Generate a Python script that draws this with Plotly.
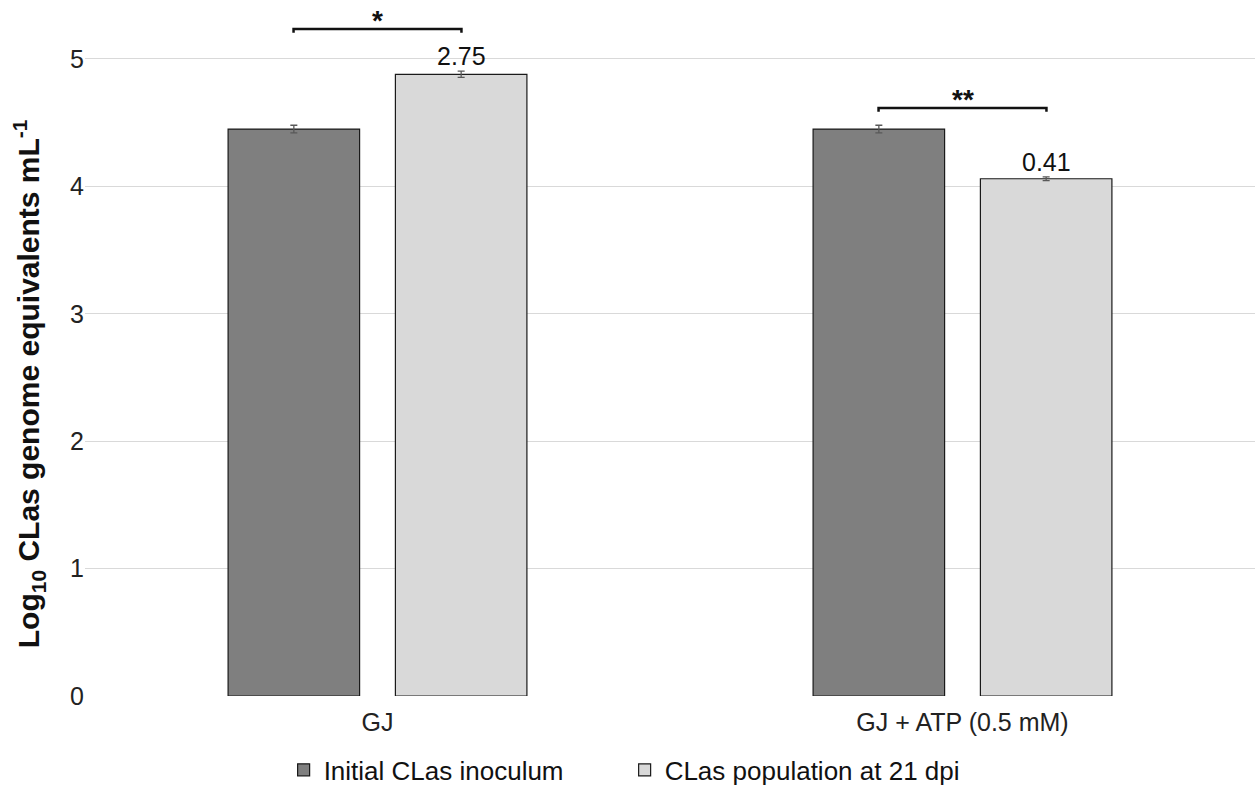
import plotly.graph_objects as go

# Treatments and measured log10 CLas genome equivalents
categories = ["GJ", "GJ + ATP (0.5 mM)"]
initial_vals = [4.45, 4.45]
initial_err = [0.03, 0.03]
dpi21_vals = [4.88, 4.06]
dpi21_err = [0.025, 0.015]
fold_labels = ["2.75", "0.41"]
sig_marks = ["*", "**"]

series_names = ["Initial CLas inoculum", "CLas population at 21 dpi"]
tick_vals = [0, 1, 2, 3, 4, 5]

FONT = "Liberation Sans, Arial, sans-serif"
x_idx = list(range(len(categories)))
half = 0.1435                  # bar-center offset within each group
bracket_lift = [0.355, 0.165]  # bracket height above the taller bar

fig = go.Figure()
fig.add_bar(
    x=x_idx, y=initial_vals, name=series_names[0],
    marker=dict(color="#7f7f7f", line=dict(color="#1a1a1a", width=1.2)),
    error_y=dict(type="data", array=initial_err, color="#595959", thickness=1.3, width=3.5),
)
fig.add_bar(
    x=x_idx, y=dpi21_vals, name=series_names[1],
    marker=dict(color="#d9d9d9", line=dict(color="#1a1a1a", width=1.2)),
    error_y=dict(type="data", array=dpi21_err, color="#595959", thickness=1.3, width=3.5),
)

# Fold-change labels above the 21 dpi bars
for i, lab in enumerate(fold_labels):
    fig.add_annotation(
        x=x_idx[i] + half, y=dpi21_vals[i] + dpi21_err[i], text=lab,
        showarrow=False, yanchor="bottom", yshift=-1,
        font=dict(size=25, color="#111111", family=FONT),
    )

# Significance brackets
for i, mark in enumerate(sig_marks):
    top = max(initial_vals[i], dpi21_vals[i]) + bracket_lift[i]
    x0, x1 = x_idx[i] - half, x_idx[i] + half
    fig.add_shape(
        type="path",
        path=f"M {x0} {top - 0.03} L {x0} {top} L {x1} {top} L {x1} {top - 0.03}",
        line=dict(color="#111111", width=2.5), xref="x", yref="y",
    )
    fig.add_annotation(
        x=x_idx[i], y=top, text=f"<b>{mark}</b>", showarrow=False,
        yanchor="bottom", yshift=-9,
        font=dict(size=28, color="#111111", family=FONT),
    )

# Vertical axis title
fig.add_annotation(
    xref="paper", yref="paper", x=-0.0478, y=0.448,
    xanchor="center", yanchor="middle", textangle=-90, showarrow=False,
    text="<b>Log<sub>10</sub> CLas genome equivalents mL<sup>-1</sup></b>",
    font=dict(size=30, color="#111111", family=FONT),
)

fig.update_layout(
    width=1255, height=786,
    margin=dict(l=85, r=0, t=0, b=90),
    paper_bgcolor="white", plot_bgcolor="white",
    barmode="group", bargap=0.428, bargroupgap=0.214,
    font=dict(family=FONT, color="#222222"),
    showlegend=True,
    legend=dict(
        orientation="h", xref="container", yref="container",
        x=0.226, xanchor="left", y=0.0204, yanchor="middle",
        font=dict(size=26, color="#111111", family=FONT),
        itemwidth=30, traceorder="normal",
        entrywidth=296, entrywidthmode="pixels",
    ),
)
fig.update_xaxes(
    range=[-0.5, 1.5], tickmode="array", tickvals=x_idx, ticktext=categories,
    tickfont=dict(size=25, color="#222222", family=FONT),
    showgrid=False, zeroline=False, showline=False, ticks="",
    ticklabelstandoff=9,
)
fig.update_yaxes(
    range=[0, 5.463], tickmode="array", tickvals=tick_vals,
    tickfont=dict(size=25, color="#222222", family=FONT),
    showgrid=True, gridcolor="#d9d9d9", gridwidth=1,
    zeroline=False, showline=False, ticks="",
)

fig.write_html("out.html")
